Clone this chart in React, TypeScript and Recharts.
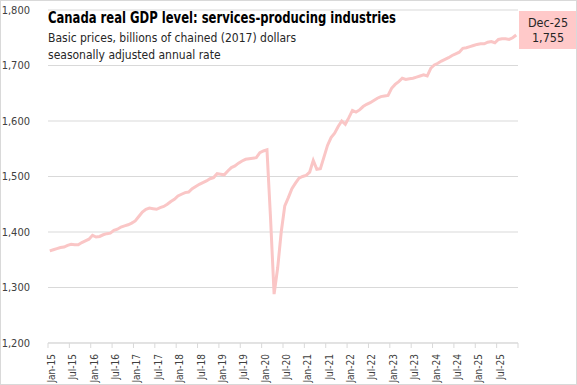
import React from "react";
import { LineChart, Line, XAxis, YAxis, CartesianGrid } from "recharts";

// monthly, Jan-15 .. Dec-25
const startYear = 2015;
const months = ["Jan", "Feb", "Mar", "Apr", "May", "Jun", "Jul", "Aug", "Sep", "Oct", "Nov", "Dec"];

const gdp = [
  1366, 1368, 1370, 1372, 1373, 1376, 1378, 1377, 1377, 1381, 1384, 1387,
  1394, 1391, 1392, 1395, 1397, 1398, 1403, 1405, 1409, 1411, 1413, 1416,
  1420, 1428, 1436, 1441, 1443, 1442, 1441, 1444, 1446, 1450, 1455, 1459,
  1465, 1468, 1471, 1472, 1478, 1482, 1486, 1489, 1492, 1496, 1498, 1505,
  1504, 1503, 1510, 1516, 1519, 1524, 1528, 1531, 1532, 1533, 1534, 1543,
  1546, 1548, 1425, 1288, 1335, 1400, 1447, 1462, 1478, 1488, 1497, 1500,
  1502, 1508, 1529, 1513, 1514, 1535, 1556, 1570, 1578, 1590, 1600, 1594,
  1606, 1619, 1616, 1620, 1626, 1630, 1633, 1637, 1641, 1644, 1645, 1646,
  1659, 1666, 1671, 1677, 1675, 1676, 1677, 1679, 1681, 1683, 1681, 1695,
  1701, 1704, 1708, 1711, 1714, 1718, 1721, 1724, 1731, 1732, 1734, 1736,
  1738, 1739, 1739, 1742, 1743, 1741, 1747, 1748, 1748, 1747, 1750, 1755,
];

const yTicks = [1200, 1300, 1400, 1500, 1600, 1700, 1800];

const monthLabel = (i: number) =>
  `${months[i % 12]}-${String((startYear + Math.floor(i / 12)) % 100).padStart(2, "0")}`;

const data = gdp.map((v, i) => ({ t: i, label: monthLabel(i), gdp: v }));

// tick marks sit on month boundaries, every 6 months
const xTicks = Array.from({ length: 23 }, (_, k) => k * 6 - 0.5);

const FONT = "'DejaVu Sans Condensed', 'Liberation Sans', Arial, sans-serif";

const XTick = (props: any) => {
  const { x, y, payload } = props;
  const i = Math.round(payload.value + 0.5);
  if (i >= gdp.length) return null;
  return (
    <g transform={`translate(${x},${y})`}>
      <text
        transform="rotate(-90)"
        x={-4}
        y={7}
        textAnchor="end"
        fontSize={10}
        fontFamily={FONT}
        fill="#404040"
      >
        {monthLabel(i)}
      </text>
    </g>
  );
};

export default function App() {
  const last = data[data.length - 1];
  return (
    <div
      style={{
        position: "fixed",
        left: 0,
        top: 0,
        width: 577,
        height: 385,
        border: "1px solid #d9d9d9",
        boxSizing: "border-box",
        background: "#fff",
        fontFamily: FONT,
        overflow: "hidden",
      }}
    >
      <div style={{ position: "absolute", left: -1, top: -1 }}>
        <LineChart
          width={577}
          height={385}
          data={data}
          margin={{ top: 10, right: 59, bottom: 0, left: 0 }}
        >
          <CartesianGrid vertical={false} stroke="#d9d9d9" />
          <XAxis
            dataKey="t"
            type="number"
            domain={[-0.5, gdp.length - 0.5]}
            ticks={xTicks}
            interval={0}
            height={42}
            stroke="#d9d9d9"
            tickSize={5}
            tick={<XTick />}
          />
          <YAxis
            domain={[1200, 1800]}
            ticks={yTicks}
            width={48}
            axisLine={false}
            tickLine={false}
            tickMargin={12}
            tickFormatter={(v) => v.toLocaleString("en-US")}
            tick={{ fontSize: 11, fill: "#404040", fontFamily: FONT }}
          />
          <Line
            type="linear"
            dataKey="gdp"
            stroke="#fac6c6"
            strokeWidth={3}
            dot={false}
            isAnimationActive={false}
          />
        </LineChart>
      </div>
      <div style={{ position: "absolute", left: 47, top: 8, color: "#000" }}>
        <div
          style={{
            fontSize: 15,
            fontWeight: "bold",
            lineHeight: "18px",
            whiteSpace: "nowrap",
            transform: "scaleX(0.86)",
            transformOrigin: "left center",
          }}
        >
          Canada real GDP level: services-producing industries
        </div>
        <div style={{ fontSize: 12, lineHeight: "17px", marginTop: 3, color: "#262626", whiteSpace: "nowrap" }}>
          Basic prices, billions of chained (2017) dollars
        </div>
        <div style={{ fontSize: 12, lineHeight: "17px", color: "#262626", whiteSpace: "nowrap" }}>
          seasonally adjusted annual rate
        </div>
      </div>
      <div
        style={{
          position: "absolute",
          left: 518,
          top: 10,
          width: 58,
          height: 38,
          background: "#ffc9c9",
          textAlign: "center",
          fontSize: 12.5,
          lineHeight: "15px",
          paddingTop: 4,
          boxSizing: "border-box",
          color: "#262626",
        }}
      >
        <div>{last.label}</div>
        <div>{last.gdp.toLocaleString("en-US")}</div>
      </div>
    </div>
  );
}
